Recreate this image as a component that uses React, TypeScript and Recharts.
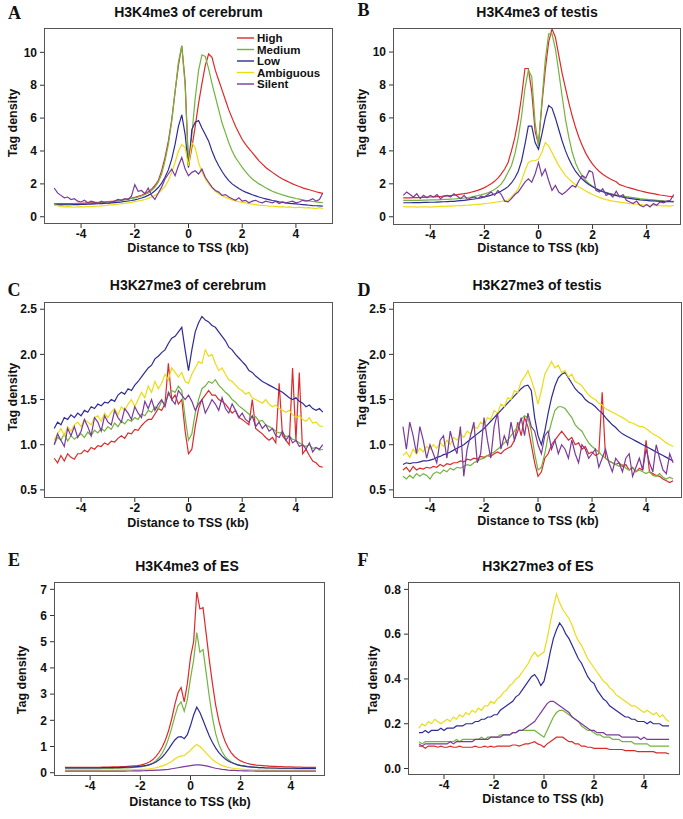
import React from "react";
import { LineChart, Line, XAxis, YAxis } from "recharts";

// distance to TSS (kb), shared by every panel
const POS = [
  -5, -4.875, -4.75, -4.625, -4.5, -4.375, -4.25, -4.125,
  -4, -3.875, -3.75, -3.625, -3.5, -3.375, -3.25, -3.125,
  -3, -2.875, -2.75, -2.625, -2.5, -2.375, -2.25, -2.125,
  -2, -1.875, -1.75, -1.625, -1.5, -1.375, -1.25, -1.125,
  -1, -0.875, -0.75, -0.625, -0.5, -0.375, -0.25, -0.125,
  0, 0.125, 0.25, 0.375, 0.5, 0.625, 0.75, 0.875,
  1, 1.125, 1.25, 1.375, 1.5, 1.625, 1.75, 1.875,
  2, 2.125, 2.25, 2.375, 2.5, 2.625, 2.75, 2.875,
  3, 3.125, 3.25, 3.375, 3.5, 3.625, 3.75, 3.875,
  4, 4.125, 4.25, 4.375, 4.5, 4.625, 4.75, 4.875,
  5,
];

const X_TICKS = [-4, -2, 0, 2, 4];
const GROUPS = ["High", "Medium", "Low", "Ambiguous", "Silent"];

// A: H3K4me3 of cerebrum
const A_HIGH = [
  0.8, 0.8, 0.8, 0.8, 0.8, 0.8, 0.8, 0.81,
  0.82, 0.83, 0.84, 0.85, 0.86, 0.87, 0.88, 0.9,
  0.92, 0.94, 0.96, 0.99, 1.02, 1.05, 1.09, 1.13,
  1.18, 1.24, 1.31, 1.4, 1.52, 1.68, 1.9, 2.2,
  2.8, 3.6, 4.6, 5.9, 7.6, 9.2, 10.4, 8.2,
  3.1, 4.2, 5.5, 6.9, 8.1, 9.2, 9.9, 9.7,
  8.9, 8.3, 7.7, 7.1, 6.5, 6.0, 5.5, 5.1,
  4.7, 4.4, 4.15, 3.9, 3.65, 3.4, 3.2, 3.0,
  2.85, 2.7, 2.55, 2.42, 2.3, 2.2, 2.1, 2.0,
  1.92, 1.84, 1.76, 1.7, 1.64, 1.58, 1.52, 1.47,
  1.42,
];
const A_MEDIUM = [
  0.75, 0.75, 0.75, 0.75, 0.76, 0.76, 0.77, 0.77,
  0.78, 0.79, 0.8, 0.81, 0.82, 0.83, 0.85, 0.87,
  0.89, 0.91, 0.94, 0.97, 1.0, 1.03, 1.07, 1.11,
  1.15, 1.2, 1.27, 1.35, 1.45, 1.6, 1.8, 2.1,
  2.6, 3.4, 4.4, 5.8, 7.6, 9.4, 10.4, 8.0,
  3.0, 5.0, 7.2, 8.9, 9.85, 9.75, 9.0, 8.1,
  7.3, 6.5, 5.7, 5.1, 4.5, 4.0, 3.6, 3.3,
  3.0, 2.75, 2.5, 2.3, 2.15, 2.0, 1.88, 1.76,
  1.65, 1.55, 1.47, 1.4, 1.33, 1.27, 1.21, 1.16,
  1.11, 1.07, 1.03, 0.99, 0.96, 0.93, 0.9, 0.88,
  0.86,
];
const A_LOW = [
  0.72, 0.72, 0.72, 0.73, 0.73, 0.73, 0.74, 0.74,
  0.75, 0.75, 0.76, 0.77, 0.78, 0.79, 0.8, 0.81,
  0.82, 0.84, 0.86, 0.88, 0.9, 0.93, 0.96, 0.99,
  1.03, 1.08, 1.14, 1.21, 1.3, 1.42, 1.58, 1.78,
  2.05, 2.4, 2.85, 3.5, 4.4, 5.5, 6.2, 5.0,
  3.0, 5.3, 5.75, 5.85, 5.4, 5.0, 4.6, 4.0,
  3.5, 3.1, 2.75, 2.45, 2.2, 2.0, 1.85, 1.72,
  1.6, 1.5, 1.42, 1.34, 1.27, 1.2, 1.14, 1.09,
  1.04, 0.99, 0.95, 0.91, 0.88, 0.85, 0.82, 0.8,
  0.78, 0.76, 0.74, 0.72, 0.7, 0.68, 0.67, 0.66,
  0.65,
];
const A_AMBIGUOUS = [
  0.72, 0.68, 0.62, 0.6, 0.62, 0.6, 0.58, 0.6,
  0.62, 0.6, 0.63, 0.62, 0.65, 0.64, 0.66, 0.68,
  0.7, 0.72, 0.74, 0.76, 0.8, 0.82, 0.85, 0.88,
  0.92, 0.96, 1.0, 1.05, 1.12, 1.2, 1.3, 1.42,
  1.6, 1.85, 2.2, 2.7, 3.3, 4.0, 4.4, 4.2,
  3.1, 4.5, 4.2, 3.3, 2.7, 2.3, 2.0, 1.75,
  1.55, 1.4, 1.28, 1.18, 1.1, 1.03, 0.97, 0.92,
  0.88, 0.84, 0.8, 0.77, 0.74, 0.71, 0.69, 0.67,
  0.65, 0.64, 0.63, 0.6, 0.62, 0.58, 0.6, 0.57,
  0.56, 0.58, 0.55, 0.54, 0.56, 0.52, 0.5, 0.55,
  0.5,
];
const A_SILENT = [
  1.75, 1.45, 1.3, 1.15, 1.2, 1.05, 1.1, 0.95,
  0.9, 1.0, 0.85, 0.95, 0.9, 0.8, 0.95, 0.85,
  0.8, 0.9, 0.95, 1.05, 1.0, 1.1, 1.05, 1.25,
  1.95, 1.55, 1.6, 1.4, 1.75, 1.3, 1.05, 1.45,
  1.8, 2.3, 2.6, 2.9, 2.5, 3.1, 3.6, 2.9,
  2.5, 2.7, 2.8, 2.6, 2.9, 2.4, 2.1, 1.8,
  1.6, 1.5, 1.3, 1.35, 1.2, 1.1, 1.0, 1.15,
  0.95, 1.0, 0.85, 0.95, 1.0, 0.9, 0.85, 0.95,
  0.9, 0.85, 0.95, 0.8, 0.9, 0.85, 0.9, 0.95,
  0.85, 0.9, 1.0, 0.95, 1.0, 1.1, 0.95, 1.05,
  1.45,
];

// B: H3K4me3 of testis
const B_HIGH = [
  1.15, 1.15, 1.15, 1.16, 1.16, 1.17, 1.18, 1.19,
  1.2, 1.21, 1.22, 1.23, 1.25, 1.27, 1.29, 1.31,
  1.34, 1.37, 1.4, 1.44, 1.49, 1.54, 1.6, 1.68,
  1.77, 1.88, 2.0, 2.15, 2.35, 2.6, 2.9, 3.3,
  4.0, 4.8, 5.9, 7.3, 9.0, 9.0, 7.6, 5.2,
  4.4, 6.8, 8.9, 10.6, 11.4, 10.9, 9.8, 8.7,
  7.8, 6.9, 6.1, 5.4, 4.8, 4.3, 3.85, 3.5,
  3.2, 2.95, 2.75, 2.58, 2.44, 2.32, 2.22, 2.13,
  1.95, 1.88, 1.81, 1.75, 1.69, 1.63, 1.58, 1.53,
  1.48, 1.44, 1.4, 1.36, 1.32, 1.29, 1.26, 1.23,
  1.2,
];
const B_MEDIUM = [
  1.0, 1.0, 1.0, 1.0, 1.0, 1.0, 1.01, 1.01,
  1.02, 1.02, 1.03, 1.04, 1.05, 1.06, 1.07, 1.08,
  1.1, 1.12, 1.14, 1.17, 1.2, 1.24, 1.28, 1.33,
  1.39, 1.46, 1.55, 1.66, 1.8, 2.0, 2.3, 2.7,
  3.1, 3.8, 4.8, 6.1, 7.8, 8.9, 8.5, 5.7,
  4.3, 7.0, 9.5, 11.1, 11.1, 10.2, 8.8, 7.3,
  5.9, 4.8, 3.9, 3.25, 2.8, 2.45, 2.2, 2.0,
  1.85, 1.73, 1.63, 1.55, 1.48, 1.42, 1.37, 1.33,
  1.29, 1.25, 1.22, 1.19, 1.16, 1.13, 1.1, 1.08,
  1.06, 1.04, 1.02, 1.0, 0.98, 0.96, 0.95, 0.94,
  0.93,
];
const B_LOW = [
  0.85, 0.85, 0.85, 0.86, 0.86, 0.86, 0.87, 0.87,
  0.88, 0.88, 0.89, 0.9, 0.91, 0.92, 0.93, 0.94,
  0.96, 0.98, 1.0, 1.02, 1.05, 1.08, 1.11, 1.15,
  1.2, 1.25, 1.31, 1.38, 1.46, 1.56, 1.68, 1.83,
  2.05, 2.35, 2.75, 3.4, 4.4, 5.5, 5.5, 4.5,
  4.1, 5.0, 6.0, 6.75, 6.6, 6.0, 5.3, 4.6,
  4.0, 3.5, 3.1, 2.75, 2.5, 2.28, 2.1, 1.95,
  1.82, 1.7, 1.6, 1.52, 1.45, 1.39, 1.33, 1.28,
  1.23, 1.19, 1.15, 1.12, 1.09, 1.06, 1.03, 1.01,
  0.99, 0.97, 0.96, 0.95, 0.94, 0.93, 0.92, 0.91,
  0.9,
];
const B_AMBIGUOUS = [
  0.62, 0.6, 0.6, 0.6, 0.58, 0.6, 0.6, 0.6,
  0.58, 0.6, 0.62, 0.63, 0.63, 0.64, 0.65, 0.66,
  0.67, 0.68, 0.69, 0.7, 0.72, 0.73, 0.75, 0.77,
  0.8, 0.82, 0.84, 0.88, 0.9, 0.93, 0.97, 1.02,
  1.2, 1.4, 1.7, 2.2, 2.8, 3.3, 3.4, 3.4,
  3.5, 3.9, 4.5, 4.3, 3.9, 3.5, 3.1, 2.8,
  2.5, 2.3, 2.1, 1.95, 1.8, 1.68, 1.56, 1.45,
  1.35, 1.26, 1.18, 1.1, 1.04, 0.99, 0.95, 0.92,
  0.89, 0.86, 0.83, 0.8, 0.78, 0.76, 0.74, 0.72,
  0.71, 0.7, 0.69, 0.68, 0.67, 0.66, 0.66, 0.65,
  0.7,
];
const B_SILENT = [
  1.3, 1.5, 1.35, 1.2, 1.4, 1.1, 1.3, 1.15,
  1.3, 1.2, 1.35, 1.1, 1.25, 1.3, 1.2, 1.4,
  1.25, 1.1, 1.3, 1.05, 1.15, 1.2, 1.1, 1.25,
  1.2, 1.35, 1.5, 1.3, 1.6, 1.35, 0.95, 0.9,
  1.1, 1.35, 1.5, 1.8, 2.1, 2.3, 2.1, 2.6,
  3.3, 2.5, 2.9, 2.2, 1.6, 1.9, 1.5, 1.35,
  1.5, 1.7, 1.9, 1.8, 2.2, 2.5, 2.35, 2.8,
  2.7, 1.6, 1.5, 1.7, 1.3, 1.4, 1.2, 1.55,
  1.2, 1.35, 1.0, 0.9, 0.8, 0.95, 0.7, 0.6,
  0.75, 0.6, 0.8, 0.7, 0.9, 0.85, 0.95, 1.0,
  1.35,
];

// C: H3K27me3 of cerebrum
const C_HIGH = [
  0.85, 0.8, 0.88, 0.82, 0.9, 0.86, 0.84, 0.9,
  0.9, 0.94, 0.92, 0.97, 0.95, 0.99, 0.98, 1.02,
  1.0, 1.04, 1.03, 1.07, 1.1, 1.07, 1.13, 1.12,
  1.17, 1.16, 1.21, 1.25, 1.28, 1.28, 1.34, 1.4,
  1.38, 1.45, 1.9, 1.5, 1.55, 1.45, 1.5, 1.15,
  0.9, 0.95, 1.2, 1.4, 1.5, 1.55, 1.6, 1.55,
  1.55, 1.5, 1.48, 1.45, 1.4, 1.35, 1.38, 1.3,
  1.28, 1.25, 1.22, 1.5, 1.18, 1.15, 1.12, 1.08,
  1.05, 1.08, 1.02, 1.68, 1.1, 1.05, 1.0, 1.85,
  1.05, 1.8, 0.9, 0.95, 0.88, 0.82, 0.8, 0.76,
  0.75,
];
const C_MEDIUM = [
  1.0, 1.08, 1.05, 1.12, 1.04, 1.1, 1.06, 1.09,
  1.12, 1.08, 1.14, 1.1, 1.16, 1.13, 1.18, 1.15,
  1.2, 1.17, 1.24, 1.2, 1.26, 1.23, 1.28, 1.26,
  1.3, 1.28, 1.34, 1.32, 1.38, 1.36, 1.42, 1.4,
  1.48, 1.46, 1.55, 1.6, 1.58, 1.65, 1.6, 1.3,
  1.05, 1.12, 1.35, 1.5, 1.62, 1.65, 1.7, 1.68,
  1.72, 1.66, 1.62, 1.58, 1.55, 1.5, 1.47, 1.43,
  1.4, 1.37, 1.34, 1.3, 1.31, 1.26, 1.27, 1.22,
  1.2, 1.18, 1.15, 1.13, 1.14, 1.09, 1.1, 1.06,
  1.05, 1.02, 1.0, 0.98, 1.0, 0.96, 0.97, 0.94,
  0.95,
];
const C_LOW = [
  1.18, 1.25, 1.22, 1.3, 1.28, 1.33, 1.3, 1.35,
  1.32, 1.38, 1.36, 1.42, 1.4, 1.45, 1.43, 1.47,
  1.46, 1.5, 1.48, 1.55, 1.58, 1.56, 1.62, 1.6,
  1.66, 1.7, 1.75, 1.8, 1.85, 1.88, 1.95, 1.98,
  2.02, 2.05, 2.12, 2.18, 2.2, 2.25, 2.3, 2.05,
  1.82, 2.05, 2.25, 2.35, 2.42, 2.38, 2.36, 2.32,
  2.3, 2.25, 2.2, 2.15, 2.08, 2.05, 2.0, 1.96,
  1.92, 1.88, 1.82, 1.8, 1.76, 1.73, 1.7, 1.68,
  1.66, 1.64, 1.62, 1.6, 1.58, 1.55, 1.52, 1.5,
  1.52, 1.48, 1.46, 1.42, 1.44, 1.4, 1.38, 1.4,
  1.36,
];
const C_AMBIGUOUS = [
  1.05, 1.12, 1.18, 1.1, 1.2, 1.15, 1.22, 1.25,
  1.2, 1.28, 1.25, 1.22, 1.3, 1.32, 1.26, 1.35,
  1.3, 1.36, 1.4, 1.33, 1.42, 1.38, 1.45, 1.5,
  1.42, 1.5, 1.58, 1.52, 1.65, 1.58, 1.7, 1.62,
  1.68, 1.78, 1.72, 1.85, 1.8, 1.75, 1.8, 1.7,
  1.68, 1.78, 1.85, 1.92, 1.9, 2.05, 1.98, 2.0,
  1.9, 1.82, 1.85, 1.78, 1.72, 1.7, 1.66, 1.62,
  1.6, 1.56, 1.58, 1.52, 1.5, 1.48, 1.46, 1.5,
  1.45, 1.42, 1.44, 1.4, 1.38, 1.36, 1.38, 1.33,
  1.3, 1.32, 1.28, 1.26, 1.3, 1.24, 1.25, 1.21,
  1.2,
];
const C_SILENT = [
  1.0, 1.12, 1.05, 0.98, 1.18, 1.1, 1.2, 1.08,
  1.15, 1.28, 1.2, 1.1, 1.3, 1.25, 1.15, 1.32,
  1.25, 1.22, 1.38, 1.3, 1.25, 1.4, 1.35, 1.28,
  1.42, 1.35, 1.3, 1.48, 1.4, 1.5, 1.38, 1.45,
  1.5, 1.42, 1.58, 1.5, 1.45, 1.6, 1.55, 1.5,
  1.55, 1.48, 1.38, 1.45, 1.5, 1.35, 1.42, 1.5,
  1.45, 1.38, 1.52, 1.4, 1.35, 1.45, 1.38, 1.3,
  1.35, 1.28, 1.25, 1.32, 1.2, 1.25, 1.18, 1.22,
  1.15, 1.18, 1.1, 1.08, 1.15, 1.05, 1.1, 1.02,
  1.05, 0.98, 1.0, 0.95, 1.02, 0.92, 0.97, 0.95,
  1.0,
];

// D: H3K27me3 of testis
const D_HIGH = [
  0.72, 0.75, 0.7, 0.76, 0.72, 0.74, 0.73, 0.75,
  0.74, 0.76, 0.75, 0.78, 0.76, 0.79, 0.78, 0.8,
  0.8, 0.82, 0.81, 0.84, 0.83, 0.85, 0.84, 0.87,
  0.86, 0.88, 0.87, 0.9, 0.92, 0.9, 0.94, 0.96,
  0.98, 1.05, 1.25, 1.1, 1.3, 1.2, 1.0, 0.8,
  0.65, 0.7, 0.85, 0.9, 1.0, 1.05, 1.1, 1.15,
  1.1, 1.05, 1.08, 1.0, 1.02, 0.95, 0.98, 0.9,
  0.92, 0.88, 0.9, 1.58, 0.85, 0.82, 0.8, 0.78,
  0.8, 0.76, 0.78, 0.72, 0.75, 0.7, 0.74, 0.72,
  1.05, 0.7, 0.68, 0.66, 0.65, 0.62, 0.6, 0.58,
  0.6,
];
const D_MEDIUM = [
  0.65, 0.62, 0.66, 0.63, 0.68, 0.65, 0.68, 0.66,
  0.62, 0.68, 0.7, 0.68, 0.72, 0.7, 0.74, 0.72,
  0.75, 0.74, 0.76, 0.78, 0.77, 0.8, 0.82, 0.84,
  0.85, 0.88, 0.9, 0.92, 0.95, 0.98, 1.02, 1.05,
  1.1, 1.15, 1.2, 1.28, 1.32, 1.3, 1.15, 0.9,
  0.72, 0.75, 0.9, 1.1, 1.25, 1.38, 1.42, 1.42,
  1.4, 1.35, 1.3, 1.22, 1.18, 1.15, 1.08, 1.02,
  0.98, 0.95, 0.92, 0.88, 0.85, 0.82, 0.8, 0.78,
  0.76, 0.78, 0.74, 0.72, 0.74, 0.7, 0.72, 0.7,
  0.68, 0.7, 0.66, 0.65, 0.68, 0.64, 0.62, 0.64,
  0.62,
];
const D_LOW = [
  0.78, 0.8, 0.79, 0.8, 0.8, 0.81, 0.82, 0.82,
  0.83, 0.84, 0.86, 0.87, 0.89, 0.9, 0.92, 0.94,
  0.96, 0.98, 1.0, 1.03, 1.06, 1.09, 1.12, 1.15,
  1.18, 1.22, 1.26, 1.3, 1.34, 1.38, 1.42, 1.46,
  1.5, 1.54, 1.58, 1.62, 1.65, 1.66, 1.6, 1.3,
  1.1, 1.0, 1.15, 1.35, 1.52, 1.65, 1.74, 1.78,
  1.8, 1.74, 1.68, 1.62, 1.58, 1.55, 1.5, 1.47,
  1.45, 1.42, 1.38, 1.35, 1.3, 1.26, 1.22, 1.19,
  1.15, 1.12, 1.1, 1.08, 1.06, 1.04, 1.02, 1.0,
  0.98, 0.96, 0.94, 0.92, 0.9, 0.88, 0.86, 0.84,
  0.82,
];
const D_AMBIGUOUS = [
  0.88, 0.92, 0.86, 0.95, 0.9, 0.96, 0.92, 0.98,
  0.95, 1.0, 0.96, 1.02, 0.98, 1.05, 1.0, 1.08,
  1.05, 1.12, 1.08, 1.15, 1.12, 1.2, 1.18, 1.25,
  1.22, 1.3, 1.28, 1.38, 1.35, 1.45, 1.42, 1.52,
  1.5, 1.6, 1.58, 1.7, 1.75, 1.82, 1.72, 1.6,
  1.45, 1.6, 1.78, 1.85, 1.92, 1.85, 1.88, 1.8,
  1.82, 1.75, 1.78, 1.7, 1.68, 1.65, 1.6, 1.55,
  1.52, 1.5, 1.46, 1.44, 1.4, 1.38, 1.36, 1.34,
  1.32, 1.3, 1.28, 1.25, 1.24, 1.22, 1.2, 1.2,
  1.18, 1.15, 1.12, 1.1, 1.08, 1.05, 1.02, 1.0,
  0.98,
];
const D_SILENT = [
  1.2, 0.95, 1.25, 1.1, 0.9, 1.2, 1.05, 0.85,
  1.0, 0.9, 0.8, 1.05, 1.1, 0.85, 1.15, 1.0,
  0.9, 1.2, 0.65, 0.95, 1.1, 1.25, 0.8, 0.9,
  1.3, 1.05, 0.85, 1.2, 1.35, 0.95, 1.1, 1.0,
  1.25, 1.05, 1.15, 1.3, 1.1, 1.35, 1.2, 1.15,
  1.0, 0.9, 1.1, 1.15, 0.95, 1.05, 0.9, 1.0,
  0.95, 0.85, 1.05, 0.9, 0.8, 1.0, 0.95, 0.85,
  0.9, 0.95, 0.75, 0.85, 0.95, 0.8, 0.7, 0.85,
  0.8, 0.7, 0.85, 0.9, 0.65, 0.75, 0.85, 0.72,
  0.95, 0.8, 0.7, 1.0, 0.85, 0.72, 0.68, 0.9,
  0.8,
];

// E: H3K4me3 of ES
const E_HIGH = [
  0.2, 0.2, 0.2, 0.2, 0.2, 0.2, 0.2, 0.2,
  0.2, 0.2, 0.2, 0.2, 0.21, 0.21, 0.21, 0.22,
  0.22, 0.22, 0.23, 0.23, 0.24, 0.25, 0.26, 0.27,
  0.29, 0.32, 0.36, 0.42, 0.5, 0.62, 0.78, 0.98,
  1.25, 1.6, 2.05, 2.6, 3.05, 3.25, 2.7, 3.4,
  4.4, 5.0, 6.9, 6.25, 6.3, 5.3, 4.3, 3.4,
  2.6, 2.0, 1.55, 1.2, 0.95, 0.76, 0.62, 0.52,
  0.45, 0.4, 0.36, 0.33, 0.31, 0.29, 0.28, 0.27,
  0.26, 0.25, 0.24, 0.24, 0.23, 0.23, 0.22, 0.22,
  0.22, 0.21, 0.21, 0.21, 0.2, 0.2, 0.2, 0.2,
  0.2,
];
const E_MEDIUM = [
  0.15, 0.15, 0.15, 0.15, 0.15, 0.15, 0.15, 0.15,
  0.15, 0.15, 0.15, 0.15, 0.16, 0.16, 0.16, 0.16,
  0.17, 0.17, 0.17, 0.18, 0.18, 0.19, 0.2, 0.21,
  0.22, 0.24, 0.27, 0.31, 0.37, 0.46, 0.58, 0.75,
  0.98, 1.3, 1.7, 2.15, 2.55, 2.7, 2.35, 2.8,
  3.6, 4.3, 5.35, 4.6, 4.7, 3.8, 2.9, 2.1,
  1.5, 1.1, 0.82, 0.62, 0.5, 0.41, 0.35, 0.31,
  0.28, 0.26, 0.24, 0.22, 0.21, 0.2, 0.19, 0.19,
  0.18, 0.18, 0.17, 0.17, 0.17, 0.16, 0.16, 0.16,
  0.16, 0.15, 0.15, 0.15, 0.15, 0.15, 0.15, 0.15,
  0.15,
];
const E_LOW = [
  0.18, 0.18, 0.18, 0.18, 0.18, 0.18, 0.18, 0.18,
  0.18, 0.18, 0.18, 0.18, 0.19, 0.19, 0.19, 0.19,
  0.19, 0.19, 0.2, 0.2, 0.21, 0.21, 0.22, 0.23,
  0.24, 0.26, 0.28, 0.31, 0.35, 0.41, 0.49, 0.6,
  0.74, 0.9, 1.08, 1.25, 1.36, 1.38, 1.3, 1.45,
  1.8, 2.2, 2.5, 2.3, 2.0, 1.7, 1.4, 1.15,
  0.95, 0.78, 0.64, 0.53, 0.45, 0.39, 0.34, 0.3,
  0.27, 0.25, 0.23, 0.22, 0.21, 0.2, 0.19, 0.19,
  0.18, 0.18, 0.18, 0.18, 0.17, 0.17, 0.17, 0.17,
  0.17, 0.17, 0.16, 0.16, 0.16, 0.16, 0.16, 0.16,
  0.16,
];
const E_AMBIGUOUS = [
  0.1, 0.1, 0.1, 0.1, 0.1, 0.1, 0.1, 0.1,
  0.1, 0.1, 0.1, 0.1, 0.1, 0.1, 0.1, 0.1,
  0.1, 0.1, 0.11, 0.11, 0.11, 0.11, 0.12, 0.12,
  0.13, 0.13, 0.14, 0.15, 0.17, 0.19, 0.22, 0.26,
  0.3, 0.36, 0.43, 0.52, 0.6, 0.64, 0.65, 0.75,
  0.85, 0.98, 1.08, 1.0, 0.88, 0.75, 0.62, 0.5,
  0.41, 0.34, 0.28, 0.24, 0.2, 0.18, 0.16, 0.15,
  0.14, 0.13, 0.12, 0.12, 0.11, 0.11, 0.11, 0.1,
  0.1, 0.1, 0.1, 0.1, 0.1, 0.1, 0.1, 0.1,
  0.1, 0.1, 0.1, 0.1, 0.1, 0.1, 0.1, 0.1,
  0.1,
];
const E_SILENT = [
  0.06, 0.06, 0.06, 0.06, 0.06, 0.06, 0.06, 0.06,
  0.06, 0.06, 0.06, 0.06, 0.06, 0.06, 0.06, 0.06,
  0.06, 0.06, 0.06, 0.06, 0.065, 0.065, 0.07, 0.07,
  0.07, 0.075, 0.08, 0.085, 0.09, 0.095, 0.1, 0.11,
  0.12, 0.13, 0.15, 0.17, 0.19, 0.21, 0.23, 0.25,
  0.27, 0.29, 0.3, 0.3, 0.28, 0.26, 0.23, 0.2,
  0.17, 0.15, 0.13, 0.12, 0.1, 0.09, 0.085, 0.08,
  0.075, 0.07, 0.07, 0.065, 0.065, 0.06, 0.06, 0.06,
  0.06, 0.06, 0.06, 0.06, 0.06, 0.06, 0.06, 0.06,
  0.06, 0.06, 0.06, 0.06, 0.06, 0.06, 0.06, 0.06,
  0.06,
];

// F: H3K27me3 of ES
const F_HIGH = [
  0.1, 0.1, 0.09, 0.1, 0.1, 0.1, 0.095, 0.1,
  0.095, 0.095, 0.1, 0.095, 0.095, 0.1, 0.095, 0.095,
  0.095, 0.095, 0.1, 0.095, 0.095, 0.1, 0.095, 0.1,
  0.095, 0.1, 0.1, 0.1, 0.1, 0.1, 0.105, 0.105,
  0.1, 0.105, 0.11, 0.11, 0.115, 0.12, 0.11, 0.105,
  0.095, 0.11, 0.12, 0.13, 0.14, 0.14, 0.14, 0.13,
  0.12, 0.12, 0.11, 0.11, 0.1, 0.1, 0.095, 0.095,
  0.09, 0.09, 0.09, 0.09, 0.09, 0.085, 0.085, 0.085,
  0.085, 0.085, 0.08, 0.08, 0.08, 0.08, 0.075, 0.075,
  0.075, 0.075, 0.075, 0.075, 0.07, 0.07, 0.07, 0.07,
  0.065,
];
const F_MEDIUM = [
  0.12, 0.11, 0.12, 0.12, 0.12, 0.12, 0.12, 0.12,
  0.12, 0.12, 0.12, 0.12, 0.13, 0.12, 0.13, 0.13,
  0.13, 0.13, 0.13, 0.13, 0.14, 0.13, 0.14, 0.14,
  0.14, 0.14, 0.15, 0.15, 0.15, 0.15, 0.16, 0.16,
  0.17, 0.17, 0.17, 0.17, 0.17, 0.17, 0.16, 0.15,
  0.14, 0.17, 0.2, 0.23, 0.25, 0.26, 0.26, 0.25,
  0.24, 0.23, 0.22, 0.21, 0.19, 0.18, 0.17, 0.17,
  0.16, 0.15, 0.15, 0.14, 0.14, 0.14, 0.13, 0.13,
  0.13, 0.12, 0.12, 0.12, 0.12, 0.11, 0.11, 0.11,
  0.11, 0.11, 0.1, 0.1, 0.1, 0.1, 0.1, 0.1,
  0.1,
];
const F_LOW = [
  0.16, 0.16, 0.17, 0.16, 0.17, 0.17, 0.17, 0.18,
  0.17, 0.18, 0.18, 0.18, 0.19, 0.19, 0.19, 0.2,
  0.2, 0.2, 0.21, 0.21, 0.22, 0.22, 0.23, 0.23,
  0.24, 0.24, 0.26, 0.27, 0.28, 0.29, 0.3, 0.32,
  0.33, 0.35, 0.37, 0.39, 0.41, 0.42, 0.4, 0.37,
  0.39, 0.45, 0.52, 0.58, 0.62, 0.65, 0.63, 0.6,
  0.58, 0.55, 0.52, 0.49, 0.47, 0.44, 0.41, 0.39,
  0.38, 0.35, 0.33, 0.31, 0.3, 0.28, 0.27, 0.26,
  0.25, 0.24, 0.23, 0.23, 0.22, 0.22, 0.21, 0.21,
  0.21, 0.2, 0.21, 0.2, 0.2, 0.2, 0.19, 0.19,
  0.19,
];
const F_AMBIGUOUS = [
  0.18, 0.2, 0.19, 0.21, 0.2, 0.22, 0.21, 0.2,
  0.21, 0.22, 0.21, 0.23, 0.22, 0.24, 0.23, 0.25,
  0.24, 0.26, 0.25, 0.27, 0.26, 0.28, 0.28, 0.3,
  0.29, 0.31, 0.32, 0.34, 0.35, 0.37, 0.38, 0.4,
  0.41, 0.43, 0.45, 0.47, 0.5, 0.52, 0.5, 0.51,
  0.52, 0.58, 0.65, 0.72, 0.78, 0.74, 0.71, 0.69,
  0.67, 0.64, 0.6, 0.57, 0.55, 0.52, 0.49, 0.47,
  0.45, 0.43, 0.41, 0.39, 0.38, 0.36, 0.35, 0.33,
  0.32, 0.31, 0.3, 0.29, 0.28, 0.28, 0.27, 0.26,
  0.25, 0.26, 0.25, 0.24, 0.25, 0.23, 0.24, 0.22,
  0.21,
];
const F_SILENT = [
  0.11, 0.1, 0.11, 0.11, 0.11, 0.11, 0.11, 0.11,
  0.11, 0.11, 0.12, 0.11, 0.12, 0.12, 0.12, 0.12,
  0.12, 0.12, 0.13, 0.13, 0.13, 0.13, 0.13, 0.14,
  0.14, 0.14, 0.14, 0.15, 0.15, 0.15, 0.16, 0.16,
  0.17, 0.17, 0.18, 0.19, 0.2, 0.21, 0.23, 0.25,
  0.27, 0.29, 0.3, 0.3, 0.29, 0.28, 0.27, 0.26,
  0.25, 0.23, 0.22, 0.21, 0.2, 0.19, 0.18, 0.17,
  0.17, 0.16, 0.16, 0.16, 0.15, 0.15, 0.15, 0.15,
  0.15, 0.14, 0.14, 0.14, 0.14, 0.14, 0.14, 0.13,
  0.14, 0.13, 0.13, 0.13, 0.13, 0.13, 0.13, 0.13,
  0.13,
];

const COLORS: Record<string, string> = {
  High: "#dc2a2a",
  Medium: "#72b43e",
  Low: "#2e2c94",
  Ambiguous: "#ecdc14",
  Silent: "#7a3a9c",
};

const FONT = '"Liberation Sans", Arial, sans-serif';
const SERIF = '"Liberation Serif", "Times New Roman", serif';

type Box = { left: number; top: number; w: number; h: number };

interface PanelProps {
  box: Box;
  xDomain: [number, number];
  yDomain: [number, number];
  yTicks: number[];
  decimals: number;
  series: number[][];
}

function Panel({ box, xDomain, yDomain, yTicks, decimals, series }: PanelProps) {
  const rows = POS.map((x, i) => {
    const row: Record<string, number> = { x };
    GROUPS.forEach((g, k) => {
      row[g] = series[k][i];
    });
    return row;
  });
  const tickStyle = { fontSize: 12, fontWeight: 700, fill: "#111", fontFamily: FONT };

  return (
    <>
      <div style={{ position: "absolute", left: box.left - 40, top: box.top - 2 }}>
        <LineChart
          width={box.w + 44}
          height={box.h + 26}
          data={rows}
          margin={{ top: 2, right: 4, left: 0, bottom: 0 }}
        >
          <XAxis
            dataKey="x"
            type="number"
            domain={xDomain}
            ticks={X_TICKS}
            interval={0}
            allowDataOverflow
            height={24}
            axisLine={false}
            tickSize={4}
            tickMargin={1}
            tickLine={{ stroke: "#333" }}
            tick={tickStyle}
          />
          <YAxis
            type="number"
            domain={yDomain}
            ticks={yTicks}
            interval={0}
            allowDataOverflow
            width={40}
            axisLine={false}
            tickSize={4}
            tickMargin={3}
            tickLine={{ stroke: "#333" }}
            tick={tickStyle}
            tickFormatter={(v: number) => v.toFixed(decimals)}
          />
          {GROUPS.map((g) => (
            <Line
              key={g}
              type="linear"
              dataKey={g}
              stroke={COLORS[g]}
              strokeWidth={1.2}
              dot={false}
              isAnimationActive={false}
            />
          ))}
        </LineChart>
      </div>
      <div
        style={{
          position: "absolute",
          left: box.left,
          top: box.top,
          width: box.w,
          height: box.h,
          border: "1px solid #555",
          boxSizing: "border-box",
          pointerEvents: "none",
        }}
      />
    </>
  );
}

function Text({
  x,
  y,
  children,
  size = 12.5,
  rotate = false,
  serif = false,
}: {
  x: number;
  y: number;
  children: React.ReactNode;
  size?: number;
  rotate?: boolean;
  serif?: boolean;
}) {
  return (
    <div
      style={{
        position: "absolute",
        left: x,
        top: y,
        transform: `translate(-50%, -50%)${rotate ? " rotate(-90deg)" : ""}`,
        fontFamily: serif ? SERIF : FONT,
        fontWeight: 700,
        fontSize: size,
        lineHeight: 1,
        whiteSpace: "nowrap",
        color: "#111",
      }}
    >
      {children}
    </div>
  );
}

// legend of panel A, drawn inside its plot box
function LegendA() {
  const rowsY = [38, 49.5, 61, 72.5, 84];
  return (
    <svg
      width={100}
      height={64}
      style={{ position: "absolute", left: 234, top: 30, overflow: "visible" }}
    >
      {GROUPS.map((g, i) => (
        <g key={g}>
          <line
            x1={3}
            x2={20}
            y1={rowsY[i] - 30}
            y2={rowsY[i] - 30}
            stroke={COLORS[g]}
            strokeWidth={1.4}
          />
          <text
            x={23}
            y={rowsY[i] - 30 + 4}
            fontFamily={FONT}
            fontWeight={700}
            fontSize={11.5}
            fill="#111"
          >
            {g}
          </text>
        </g>
      ))}
    </svg>
  );
}

export default function App() {
  return (
    <div
      style={{
        position: "absolute",
        left: 0,
        top: 0,
        width: 683,
        height: 819,
        background: "#fff",
        overflow: "hidden",
      }}
    >
      <Panel
        box={{ left: 44, top: 28, w: 289, h: 196 }}
        xDomain={[-5.38, 5.38]}
        yDomain={[-0.44, 11.48]}
        yTicks={[0, 2, 4, 6, 8, 10]}
        decimals={0}
        series={[A_HIGH, A_MEDIUM, A_LOW, A_AMBIGUOUS, A_SILENT]}
      />
      <Panel
        box={{ left: 393, top: 28, w: 288, h: 197 }}
        xDomain={[-5.38, 5.27]}
        yDomain={[-0.5, 11.46]}
        yTicks={[0, 2, 4, 6, 8, 10]}
        decimals={0}
        series={[B_HIGH, B_MEDIUM, B_LOW, B_AMBIGUOUS, B_SILENT]}
      />
      <Panel
        box={{ left: 44, top: 302, w: 289, h: 196 }}
        xDomain={[-5.38, 5.38]}
        yDomain={[0.41, 2.58]}
        yTicks={[0.5, 1, 1.5, 2, 2.5]}
        decimals={1}
        series={[C_HIGH, C_MEDIUM, C_LOW, C_AMBIGUOUS, C_SILENT]}
      />
      <Panel
        box={{ left: 393, top: 302, w: 289, h: 196 }}
        xDomain={[-5.37, 5.33]}
        yDomain={[0.41, 2.58]}
        yTicks={[0.5, 1, 1.5, 2, 2.5]}
        decimals={1}
        series={[D_HIGH, D_MEDIUM, D_LOW, D_AMBIGUOUS, D_SILENT]}
      />
      <Panel
        box={{ left: 54, top: 582, w: 271, h: 194 }}
        xDomain={[-5.44, 5.36]}
        yDomain={[-0.126, 7.28]}
        yTicks={[0, 1, 2, 3, 4, 5, 6, 7]}
        decimals={0}
        series={[E_HIGH, E_MEDIUM, E_LOW, E_AMBIGUOUS, E_SILENT]}
      />
      <Panel
        box={{ left: 408, top: 582, w: 272, h: 193 }}
        xDomain={[-5.44, 5.44]}
        yDomain={[-0.029, 0.833]}
        yTicks={[0, 0.2, 0.4, 0.6, 0.8]}
        decimals={1}
        series={[F_HIGH, F_MEDIUM, F_LOW, F_AMBIGUOUS, F_SILENT]}
      />

      <LegendA />

      <Text x={14.5} y={12.5} size={18} serif>A</Text>
      <Text x={363.5} y={10} size={18} serif>B</Text>
      <Text x={14} y={290} size={18} serif>C</Text>
      <Text x={364} y={290} size={18} serif>D</Text>
      <Text x={14} y={560} size={18} serif>E</Text>
      <Text x={363} y={560} size={18} serif>F</Text>

      <Text x={188.5} y={12} size={14}>H3K4me3 of cerebrum</Text>
      <Text x={537} y={12} size={14}>H3K4me3 of testis</Text>
      <Text x={188} y={285} size={14}>H3K27me3 of cerebrum</Text>
      <Text x={537} y={285} size={14}>H3K27me3 of testis</Text>
      <Text x={187} y={566} size={14}>H3K4me3 of ES</Text>
      <Text x={538} y={566} size={14}>H3K27me3 of ES</Text>

      <Text x={188} y={248}>Distance to TSS (kb)</Text>
      <Text x={538} y={248}>Distance to TSS (kb)</Text>
      <Text x={188} y={523}>Distance to TSS (kb)</Text>
      <Text x={538} y={521}>Distance to TSS (kb)</Text>
      <Text x={190} y={802}>Distance to TSS (kb)</Text>
      <Text x={543} y={799}>Distance to TSS (kb)</Text>

      <Text x={12.5} y={123} rotate>Tag density</Text>
      <Text x={362} y={123} rotate>Tag density</Text>
      <Text x={12.5} y={397} rotate>Tag density</Text>
      <Text x={362} y={393} rotate>Tag density</Text>
      <Text x={22} y={680} rotate>Tag density</Text>
      <Text x={373} y={680} rotate>Tag density</Text>
    </div>
  );
}
